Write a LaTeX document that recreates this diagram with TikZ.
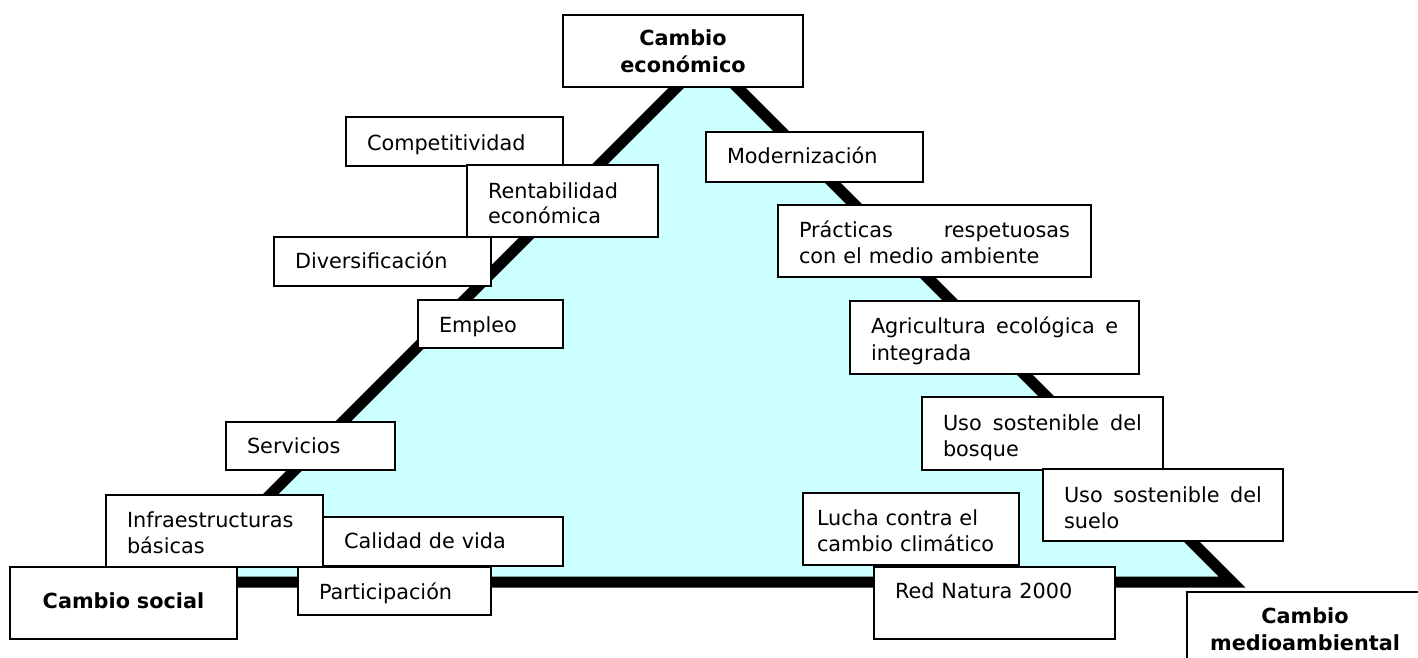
\documentclass[tikz,border=0pt]{standalone}
\usepackage{fontspec}
\setmainfont{DejaVu Sans}
\begin{document}
\begin{tikzpicture}[x=1pt,y=-1pt,
  bx/.style={draw=black, line width=1.5pt, fill=white, inner xsep=21pt, inner ysep=0pt,
    outer sep=0pt, anchor=north west, align=left, font=\fontsize{20.8}{26}\selectfont},
  hd/.style={bx, align=center, font=\fontsize{20.8}{27}\selectfont\bfseries},
  tri/.style={draw=black, line width=11pt, line join=miter}]
\useasboundingbox (0,0) rectangle (1418,657);
\definecolor{trifill}{HTML}{CCFFFF}
\coordinate (A) at (707,57);
\coordinate (B) at (183,582);
\coordinate (C) at (1232,582);
\draw[tri, fill=trifill] (B) -- (A) -- (C) -- cycle;
% left side
\node[bx, text width=175pt, text height=33pt, text depth=16pt] (comp) at (346,117) {Competitividad};
\node[bx, text width=149pt, text height=33pt, text depth=39pt, font=\fontsize{20.8}{25}\selectfont] (rent) at (467,165) {Rentabilidad\\económica};
\node[bx, text width=175pt, text height=31pt, text depth=18pt] (div) at (274,237) {Diversificación};
\node[bx, text width=103pt, text height=32pt, text depth=16pt] (emp) at (418,300) {Empleo};
\node[bx, text width=127pt, text height=31pt, text depth=17pt] (serv) at (226,422) {Servicios};
\node[bx, text width=175pt, text height=32pt, text depth=40pt] (infra) at (106,495) {Infraestructuras\\básicas};
\node[bx, text width=198pt, text height=31pt, text depth=18pt] (cal) at (323,517) {Calidad de vida};
\node[bx, text width=151pt, text height=32pt, text depth=16pt] (part) at (298,567) {Participación};
% right side
\node[bx, text width=175pt, text height=31pt, text depth=19pt] (mod) at (706,132) {Modernización};
\node[bx, text width=271pt, text height=32pt, text depth=40pt] (prac) at (778,205) {Prácticas\hfill respetuosas\\con el medio ambiente};
\node[bx, text width=247pt, text height=32pt, text depth=41pt, font=\fontsize{20.8}{27}\selectfont] (agri) at (850,301) {Agricultura\hfill ecológica\hfill e\\integrada};
\node[bx, text width=199pt, text height=33pt, text depth=40pt] (bosq) at (922,397) {Uso\hfill sostenible\hfill del\\bosque};
\node[bx, text width=198pt, text height=33pt, text depth=39pt] (suelo) at (1043,469) {Uso\hfill sostenible\hfill del\\suelo};
\node[bx, inner xsep=14pt, text width=188pt, text height=32pt, text depth=40pt] (lucha) at (803,493) {Lucha contra el\\cambio climático};
\node[bx, text width=199pt, text height=31pt, text depth=41pt] (red) at (874,567) {Red Natura 2000};
% corner titles
\node[hd, text width=198pt, text height=30pt, text depth=42pt] (econ) at (563,15) {Cambio\\económico};
\node[hd, text width=185pt, text height=41pt, text depth=31pt] (social) at (10,567) {Cambio social};
\node[hd, inner xsep=5pt, text width=226pt, text height=31pt, text depth=41pt] (medio) at (1187,592) {Cambio\\medioambiental};
\end{tikzpicture}
\end{document}
